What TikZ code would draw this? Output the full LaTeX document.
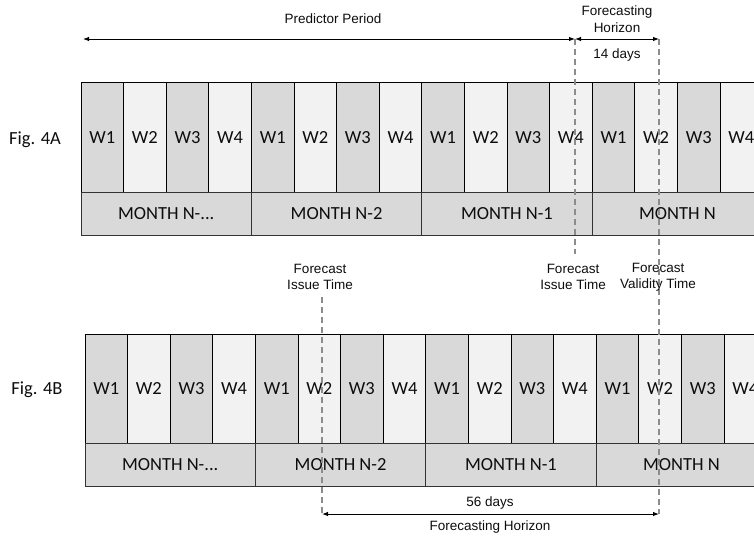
\documentclass[tikz,border=0pt]{standalone}
\usepackage{fontspec}
\setmainfont{Liberation Sans}
\newfontfamily\cellfont{Carlito}
\usepackage{tikz}
\usetikzlibrary{arrows.meta,positioning,calc}

\definecolor{cellDark}{HTML}{D9D9D9}
\definecolor{cellLight}{HTML}{F2F2F2}
\definecolor{guideGray}{HTML}{8C8C8C}
\definecolor{textDark}{HTML}{0D0D0D}

\begin{document}
\begin{tikzpicture}[x=1pt, y=-1pt]
  \tikzstyle{week} = [draw=black, line width=0.8pt, inner sep=0pt, minimum width=42.6pt, text=textDark]
  \tikzstyle{week} += [font=\cellfont\fontsize{18.5}{21}\selectfont, text height=12pt, text depth=0pt]
  \tikzstyle{wdark} = [week, fill=cellDark]
  \tikzstyle{wlight} = [week, fill=cellLight]
  \tikzstyle{month} = [draw=black!80, line width=0.8pt, fill=cellDark, inner sep=0pt, minimum width=170.4pt, minimum height=43pt, text=textDark, font=\cellfont\fontsize{18.5}{21}\selectfont]
  \tikzstyle{label} = [align=center, text=textDark, font=\fontsize{13.5}{16.5}\selectfont, inner sep=0pt]
  \tikzstyle{guide} = [guideGray, line width=1.5pt, dash pattern=on 6pt off 4pt]
  \tikzstyle{span} = [{Latex[length=6pt,width=4.5pt]}-{Latex[length=6pt,width=4.5pt]}, line width=1pt]

  \useasboundingbox (0,0) rectangle (754,536);
  \clip (0,0) rectangle (754,536);

  \def\wA{137}   % week row, fig. 4A
  \def\mA{213.5} % month row, fig. 4A
  \def\wB{388.5} % week row, fig. 4B
  \def\mB{464.5} % month row, fig. 4B

  % Fig. 4A weeks
  \node[wdark,  minimum height=110pt] (a1)  at (102.3, \wA) {W1};
  \node[wlight, minimum height=110pt] (a2)  at (144.9, \wA) {W2};
  \node[wdark,  minimum height=110pt] (a3)  at (187.5, \wA) {W3};
  \node[wlight, minimum height=110pt] (a4)  at (230.1, \wA) {W4};
  \node[wdark,  minimum height=110pt] (a5)  at (272.7, \wA) {W1};
  \node[wlight, minimum height=110pt] (a6)  at (315.3, \wA) {W2};
  \node[wdark,  minimum height=110pt] (a7)  at (357.9, \wA) {W3};
  \node[wlight, minimum height=110pt] (a8)  at (400.5, \wA) {W4};
  \node[wdark,  minimum height=110pt] (a9)  at (443.1, \wA) {W1};
  \node[wlight, minimum height=110pt] (a10) at (485.7, \wA) {W2};
  \node[wdark,  minimum height=110pt] (a11) at (528.3, \wA) {W3};
  \node[wlight, minimum height=110pt] (a12) at (570.9, \wA) {W4};
  \node[wdark,  minimum height=110pt] (a13) at (613.5, \wA) {W1};
  \node[wlight, minimum height=110pt] (a14) at (656.1, \wA) {W2};
  \node[wdark,  minimum height=110pt] (a15) at (698.7, \wA) {W3};
  \node[wlight, minimum height=110pt] (a16) at (741.3, \wA) {W4};

  % Fig. 4A months
  \node[month] (am1) at (166.2, \mA) {MONTH N-...};
  \node[month] (am2) at (336.6, \mA) {MONTH N-2};
  \node[month] (am3) at (507.0, \mA) {MONTH N-1};
  \node[month] (am4) at (677.4, \mA) {MONTH N};

  % Fig. 4B weeks
  \node[wdark,  minimum height=109pt] (b1)  at (106.3, \wB) {W1};
  \node[wlight, minimum height=109pt] (b2)  at (148.9, \wB) {W2};
  \node[wdark,  minimum height=109pt] (b3)  at (191.5, \wB) {W3};
  \node[wlight, minimum height=109pt] (b4)  at (234.1, \wB) {W4};
  \node[wdark,  minimum height=109pt] (b5)  at (276.7, \wB) {W1};
  \node[wlight, minimum height=109pt] (b6)  at (319.3, \wB) {W2};
  \node[wdark,  minimum height=109pt] (b7)  at (361.9, \wB) {W3};
  \node[wlight, minimum height=109pt] (b8)  at (404.5, \wB) {W4};
  \node[wdark,  minimum height=109pt] (b9)  at (447.1, \wB) {W1};
  \node[wlight, minimum height=109pt] (b10) at (489.7, \wB) {W2};
  \node[wdark,  minimum height=109pt] (b11) at (532.3, \wB) {W3};
  \node[wlight, minimum height=109pt] (b12) at (574.9, \wB) {W4};
  \node[wdark,  minimum height=109pt] (b13) at (617.5, \wB) {W1};
  \node[wlight, minimum height=109pt] (b14) at (660.1, \wB) {W2};
  \node[wdark,  minimum height=109pt] (b15) at (702.7, \wB) {W3};
  \node[wlight, minimum height=109pt] (b16) at (745.3, \wB) {W4};

  % Fig. 4B months
  \node[month] (bm1) at (170.2, \mB) {MONTH N-...};
  \node[month] (bm2) at (340.6, \mB) {MONTH N-2};
  \node[month] (bm3) at (511.0, \mB) {MONTH N-1};
  \node[month] (bm4) at (681.4, \mB) {MONTH N};

  % figure names
  \node[font=\cellfont\fontsize{18.5}{21}\selectfont, text=textDark] (figA) at (35, 140) {Fig. 4A};
  \node[font=\cellfont\fontsize{18.5}{21}\selectfont, text=textDark] (figB) at (37, 390) {Fig. 4B};

  % time marks
  \coordinate (predL)  at (83, 39);
  \coordinate (issA)   at (575, 39);
  \coordinate (valA)   at (659, 39);
  \coordinate (issAbot) at (575, 254);
  \coordinate (issBtop) at (322, 297);
  \coordinate (issB)   at (322, 514);
  \coordinate (valB)   at (659, 514);

  % guide lines
  \draw[guide] (issA) -- (issAbot);
  \draw[guide] (valA) -- (valB);
  \draw[guide] (issBtop) -- (issB);

  % spans
  \draw[span] (predL) -- (issA);
  \draw[span] (issA) -- (valA);
  \draw[span] (issB) -- (valB);

  % annotate names
  \node[label] (pred)  at (333, 19)    {Predictor Period};
  \node[label] (horA)  at (617, 19)    {Forecasting\\Horizon};
  \node[label] (daysA) at (617, 55)    {14 days};
  \node[label] (issLB) at (320, 277)   {Forecast\\Issue Time};
  \node[label] (issLA) at (573, 277)   {Forecast\\Issue Time};
  \node[label] (valL)  at (658, 277)   {Forecast\\Validity Time};
  \node[label] (daysB) at (490, 503)   {56 days};
  \node[label] (horB)  at (490, 527)   {Forecasting Horizon};

\end{tikzpicture}
\end{document}
